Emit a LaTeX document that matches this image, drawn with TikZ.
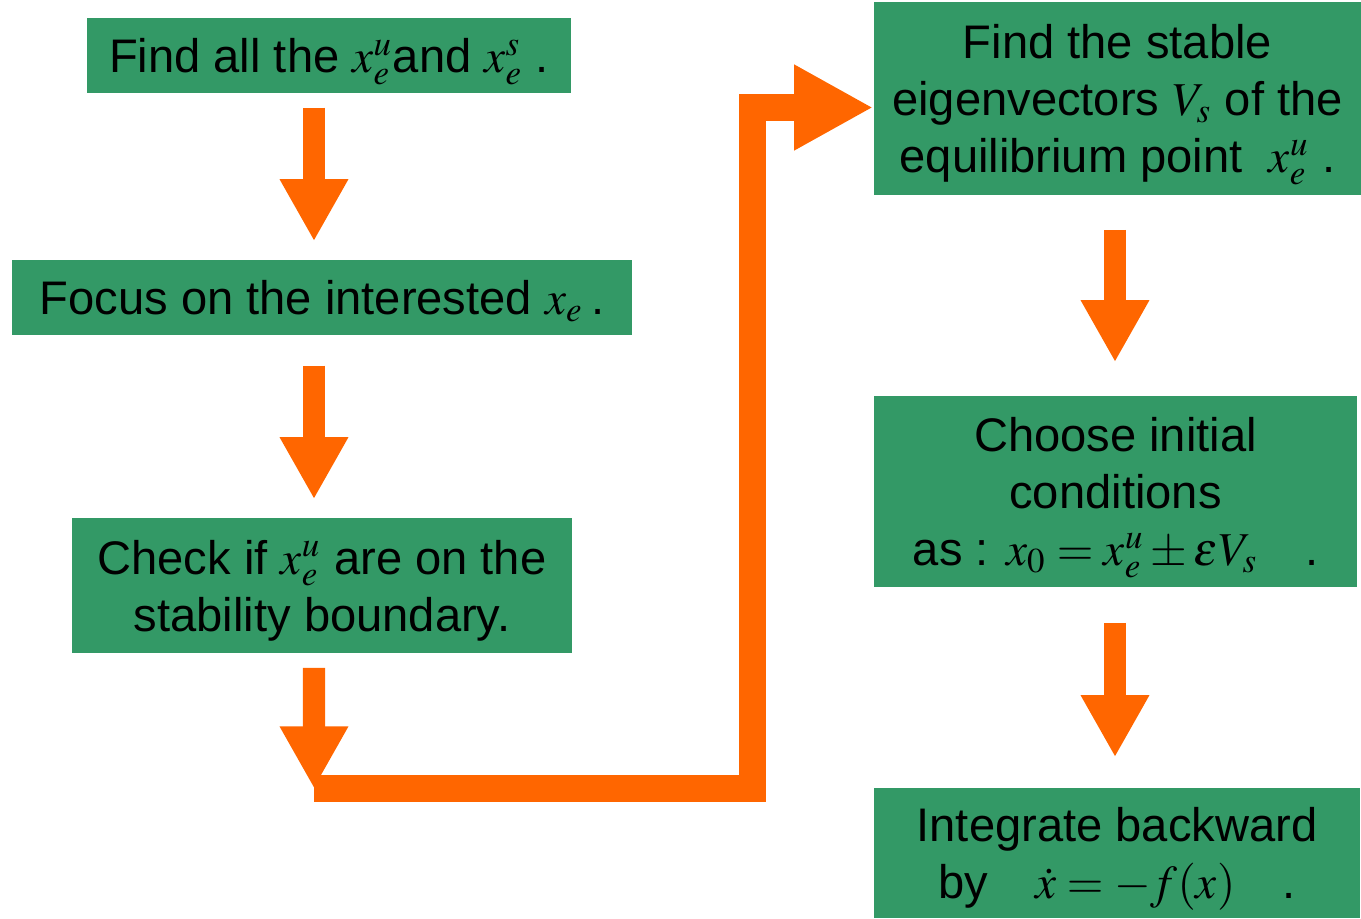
\documentclass[tikz,border=0pt]{standalone}
\usepackage{mathptmx}
\usepackage{fontspec}
\setmainfont{Liberation Sans}
\usetikzlibrary{arrows.meta, positioning, calc}
\definecolor{flowgreen}{HTML}{339966}
\definecolor{floworange}{HTML}{FF6600}
\tikzset{
    box/.style = {fill=flowgreen, inner sep=0pt, align=center, text depth=0pt, font=\fontsize{13.4}{16.2}\selectfont},
    flow/.style = {draw=floworange, line width=0.22cm, -{Triangle[length=0.62cm, width=0.64cm]}},
    elbow/.style = {draw=floworange, line width=0.27cm, line join=miter, -{Triangle[length=0.79cm, width=0.80cm]}}
}
\begin{document}
\begin{tikzpicture}[x=0.01cm, y=-0.01cm]
\useasboundingbox (0,0) rectangle (1361,918);
% Left column
\node[box, minimum width=4.84cm, minimum height=0.75cm] (find) at (329, 55.5) {Find all the $x_e^u$and $x_e^s$\ .};
\node[box, minimum width=6.20cm, minimum height=0.75cm] (focus) at (322, 297.5) {Focus on the interested $x_e$\,.};
\node[box, minimum width=5.00cm, minimum height=1.35cm] (check) at (322, 585.5) {Check if $x_e^u$ are on the\\stability boundary.};

% Right column
\node[box, minimum width=4.87cm, minimum height=1.93cm] (stable) at (1117.5, 98.5) {Find the stable\\eigenvectors $V_s$ of the\\equilibrium point\ \ $x_e^u$\ .};
\node[box, minimum width=4.83cm, minimum height=1.91cm] (choose) at (1115.5, 491.5) {Choose initial\\conditions\\as : $x_0=x_e^u\pm\varepsilon V_s$\quad .};
\node[box, minimum width=4.86cm, minimum height=1.30cm] (integrate) at (1117, 853) {Integrate backward\\by\quad $\dot{x}=-f(x)$\quad .};

% Corners of the elbow
\coordinate (turn) at (314, 788.5);
\coordinate (low) at (752.5, 788.5);
\coordinate (high) at (752.5, 107.5);

% Left column arrows
\draw[flow, shorten <=0.14cm, shorten >=0.18cm] ([xshift=-0.15cm]find.south) -- ([xshift=-0.15cm]find.south |- focus.north);
\draw[flow, shorten <=0.30cm, shorten >=0.18cm] ([xshift=-0.08cm]focus.south) -- ([xshift=-0.08cm]focus.south |- check.north);
\draw[flow, shorten <=0.14cm] ([xshift=-0.08cm]check.south) -- (turn);

% Check -> Find the stable
\draw[elbow] (turn) -- (low) -- (high) -- (high -| stable.west);

% Right column arrows
\draw[flow, shorten <=0.34cm, shorten >=0.33cm] ([xshift=-0.025cm]stable.south) -- ([xshift=-0.025cm]stable.south |- choose.north);
\draw[flow, shorten <=0.35cm, shorten >=0.30cm] ([xshift=-0.005cm]choose.south) -- ([xshift=-0.005cm]choose.south |- integrate.north);
\end{tikzpicture}
\end{document}
